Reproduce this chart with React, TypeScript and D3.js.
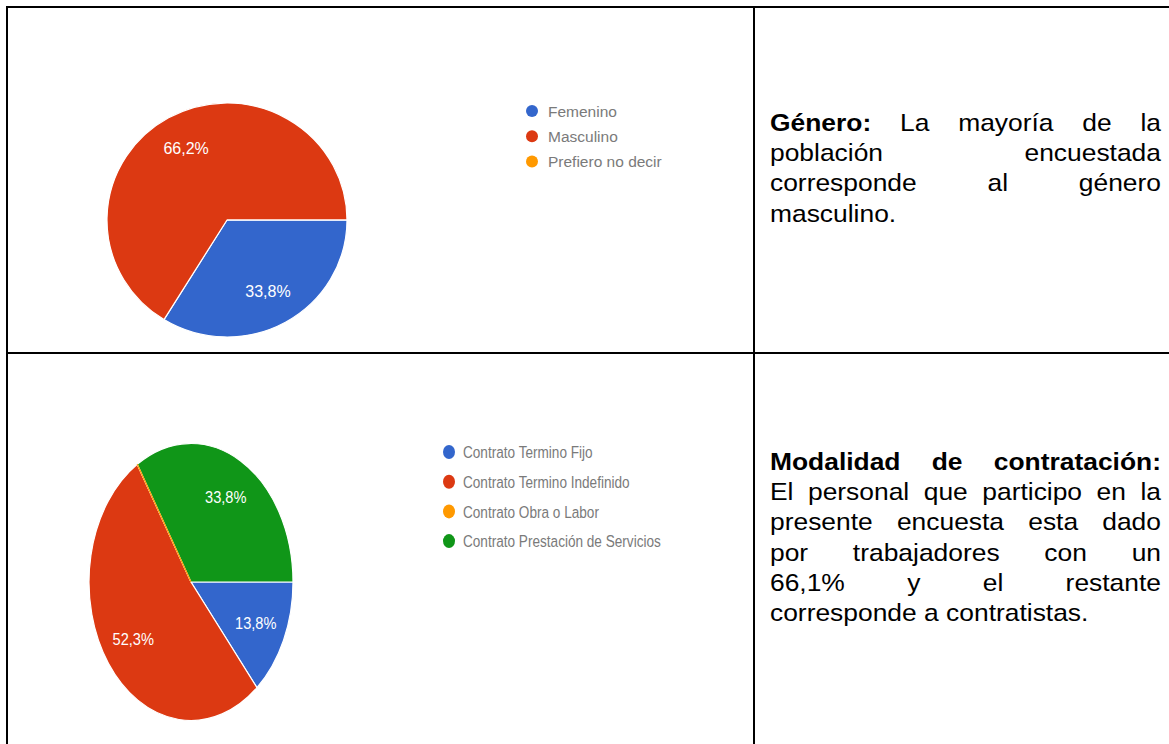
import React, { useMemo } from "react";
import * as d3 from "d3";

// ---------- data ----------
const genderLabels = ["Femenino", "Masculino", "Prefiero no decir"];
const genderValues = [33.8, 66.2, 0];

const contractLabels = [
  "Contrato Termino Fijo",
  "Contrato Termino Indefinido",
  "Contrato Obra o Labor",
  "Contrato Prestación de Servicios",
];
const contractValues = [13.8, 52.3, 0, 33.8];

const sliceColors = ["#3366cc", "#dc3912", "#ff9900", "#109618"];

type Line = { bold?: string; text: string; justify: boolean };

const genderNote: Line[] = [
  { bold: "Género:", text: "La mayoría de la", justify: true },
  { text: "población encuestada", justify: true },
  { text: "corresponde al género", justify: true },
  { text: "masculino.", justify: false },
];

const contractNote: Line[] = [
  { bold: "Modalidad de contratación:", text: "", justify: true },
  { text: "El personal que participo en la", justify: true },
  { text: "presente encuesta esta dado", justify: true },
  { text: "por trabajadores con un", justify: true },
  { text: "66,1% y el restante", justify: true },
  { text: "corresponde a contratistas.", justify: false },
];

const FONT = '"Liberation Sans", Arial, Helvetica, sans-serif';

// ---------- components ----------
function JustifiedText({ x, y, width, lineHeight, fontSize, scaleX, lines }: any) {
  const measure = useMemo(() => {
    const ctx = document.createElement("canvas").getContext("2d")!;
    return (s: string, bold: boolean) => {
      ctx.font = `${bold ? "bold " : ""}${fontSize}px ${FONT}`;
      return ctx.measureText(s).width * scaleX;
    };
  }, [fontSize, scaleX]);

  return (
    <g>
      {lines.map((ln: Line, i: number) => {
        const words: { w: string; b: boolean }[] = [];
        if (ln.bold) ln.bold.split(" ").forEach((w) => words.push({ w, b: true }));
        if (ln.text) ln.text.split(" ").forEach((w) => words.push({ w, b: false }));
        const widths = words.map((d) => measure(d.w, d.b));
        const total = d3.sum(widths);
        const gap =
          ln.justify && words.length > 1
            ? (width - total) / (words.length - 1)
            : measure(" ", false);
        let cx = x;
        return (
          <g key={i}>
            {words.map((d, j) => {
              const px = cx;
              cx += widths[j] + gap;
              return (
                <text
                  key={j}
                  transform={`translate(${px},${y + i * lineHeight}) scale(${scaleX},1)`}
                  fontFamily={FONT}
                  fontSize={fontSize}
                  fontWeight={d.b ? "bold" : "normal"}
                  fill="#000"
                >
                  {d.w}
                </text>
              );
            })}
          </g>
        );
      })}
    </g>
  );
}

function EllipsePie({ cx, cy, rx, ry, values, colors, fontSize, labelScaleX, zeroStroke }: any) {
  const R = 100;
  const arcs = d3
    .pie<number>()
    .sort(null)
    .startAngle(Math.PI / 2)
    .endAngle(Math.PI / 2 + 2 * Math.PI)(values);
  const arc = d3.arc<any>().innerRadius(0).outerRadius(R);
  const labelArc = d3.arc<any>().innerRadius(R * 0.7).outerRadius(R * 0.7);
  const sx = rx / R;
  const sy = ry / R;
  const fmt = (v: number) => d3.format(".1f")(v).replace(".", ",") + "%";
  const nonZero = arcs.filter((a) => a.value > 0);
  const zero = arcs.filter((a) => a.value === 0);
  return (
    <g transform={`translate(${cx},${cy})`}>
      <g transform={`scale(${sx},${sy})`}>
        {nonZero.map((a) => (
          <path
            key={a.index}
            d={arc(a) as string}
            fill={colors[a.index]}
            stroke="#fff"
            strokeWidth={1.2}
            vectorEffect="non-scaling-stroke"
          />
        ))}
        {zero.map((a) => (
          <path
            key={a.index}
            d={arc(a) as string}
            fill="none"
            stroke={zeroStroke ? colors[a.index] : "#fff"}
            strokeWidth={1.2}
            vectorEffect="non-scaling-stroke"
          />
        ))}
      </g>
      {nonZero.map((a) => {
        const [lx, ly] = labelArc.centroid(a);
        return (
          <text
            key={a.index}
            transform={`translate(${lx * sx},${ly * sy}) scale(${labelScaleX},1)`}
            textAnchor="middle"
            dy="0.36em"
            fontFamily={FONT}
            fontSize={fontSize}
            fill="#fff"
          >
            {fmt(a.value)}
          </text>
        );
      })}
    </g>
  );
}

function Legend({ x, y, step, labels, colors, fontSize, scaleX, dotRx, dotRy, textDx }: any) {
  return (
    <g>
      {labels.map((l: string, i: number) => (
        <g key={l} transform={`translate(${x},${y + i * step})`}>
          <ellipse rx={dotRx} ry={dotRy} fill={colors[i]} />
          <text
            transform={`translate(${textDx},0) scale(${scaleX},1)`}
            dy="0.36em"
            fontFamily={FONT}
            fontSize={fontSize}
            fill="#7a7a7a"
          >
            {l}
          </text>
        </g>
      ))}
    </g>
  );
}

export default function App() {
  const W = 1169;
  const H = 744;
  return (
    <svg
      width={W}
      height={H}
      style={{ position: "absolute", left: 0, top: 0, background: "#fff" }}
    >
      <rect x={0} y={0} width={W} height={H} fill="#fff" />
      {/* table borders */}
      <g stroke="#000" strokeWidth={2}>
        <line x1={6} y1={7} x2={W} y2={7} />
        <line x1={7} y1={6} x2={7} y2={H} />
        <line x1={754} y1={6} x2={754} y2={H} />
        <line x1={6} y1={353} x2={W} y2={353} />
      </g>

      <EllipsePie
        cx={227}
        cy={220}
        rx={120}
        ry={117}
        values={genderValues}
        colors={sliceColors}
        fontSize={16}
        labelScaleX={1}
        zeroStroke={false}
      />
      <Legend
        x={532}
        y={111}
        step={25.3}
        labels={genderLabels}
        colors={sliceColors}
        fontSize={15.5}
        scaleX={1}
        dotRx={6}
        dotRy={6}
        textDx={16}
      />

      <EllipsePie
        cx={191}
        cy={582}
        rx={102}
        ry={138.5}
        values={contractValues}
        colors={sliceColors}
        fontSize={17}
        labelScaleX={0.86}
        zeroStroke={true}
      />
      <Legend
        x={449}
        y={452}
        step={29.7}
        labels={contractLabels}
        colors={sliceColors}
        fontSize={17}
        scaleX={0.8}
        dotRx={6}
        dotRy={7}
        textDx={14}
      />

      <JustifiedText
        x={770}
        y={131}
        width={391}
        lineHeight={30.2}
        fontSize={24}
        scaleX={1.1}
        lines={genderNote}
      />
      <JustifiedText
        x={770}
        y={470}
        width={391}
        lineHeight={30.2}
        fontSize={24}
        scaleX={1.1}
        lines={contractNote}
      />
    </svg>
  );
}
